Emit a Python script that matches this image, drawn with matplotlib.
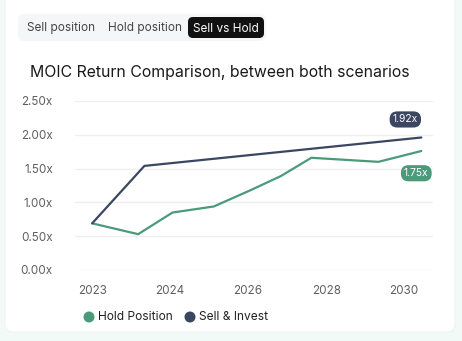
import matplotlib.pyplot as plt
from matplotlib.patches import FancyBboxPatch, Circle

plt.rcParams['font.family'] = ['Inter', 'DejaVu Sans']

# data
tick_pos = [0, 1, 2, 3, 4]
tick_labels = ['2023', '2024', '2026', '2028', '2030']
hold_x = [0.0, 0.59, 1.03, 1.56, 2.03, 2.42, 2.81, 3.67, 4.22]
hold_y = [0.69, 0.53, 0.85, 0.94, 1.18, 1.39, 1.66, 1.60, 1.76]
sell_x = [0.0, 0.67, 4.22]
sell_y = [0.69, 1.54, 1.96]
y_ticks = [0, 0.5, 1.0, 1.5, 2.0, 2.5]
hold_label = '1.75x'
sell_label = '1.92x'

navy = '#3b4661'
green = '#4b9a79'
W, H = 462, 341

fig = plt.figure(figsize=(W / 100, H / 100), dpi=100)
fig.patch.set_facecolor('#f2faf7')

def px(x, y):
    return x / W, 1 - y / H

# white card
bg = fig.add_axes([0, 0, 1, 1])
bg.set_xlim(0, W)
bg.set_ylim(H, 0)
bg.axis('off')
bg.add_patch(FancyBboxPatch((5, -10), 450, 342, boxstyle='round,pad=0,rounding_size=8',
                            fc='white', ec='#eef3f1', lw=0.8))

# toggle
bg.add_patch(FancyBboxPatch((18, 14), 248, 27, boxstyle='round,pad=0,rounding_size=6',
                            fc='#f5f6f8', ec='none'))
bg.add_patch(FancyBboxPatch((188, 17), 76, 21, boxstyle='round,pad=0,rounding_size=5',
                            fc='#111111', ec='none'))
bg.text(61, 28.5, 'Sell position', ha='center', va='center', fontsize=8.5, color='#444444')
bg.text(145, 28.5, 'Hold position', ha='center', va='center', fontsize=8.5, color='#444444')
bg.text(226, 28.5, 'Sell vs Hold', ha='center', va='center', fontsize=8.5, color='white')

bg.text(30, 73, 'MOIC Return Comparison, between both scenarios', ha='left', va='center',
        fontsize=11.4, color='#1a1a1a')

# legend
bg.add_patch(Circle((89, 317), 5.5, fc=green, ec='none'))
bg.text(98, 317, 'Hold Position', ha='left', va='center', fontsize=8.6, color='#222222')
bg.add_patch(Circle((190, 317), 5.5, fc=navy, ec='none'))
bg.text(199, 317, 'Sell & Invest', ha='left', va='center', fontsize=8.6, color='#222222')

# chart
l, b = px(75, 270)
r, t = px(433, 101)
ax = fig.add_axes([l, b, r - l, t - b])
ax.patch.set_alpha(0)
ax.plot(hold_x, hold_y, color=green, lw=1.6, solid_capstyle='round', zorder=3)
ax.plot(sell_x, sell_y, color=navy, lw=1.6, solid_capstyle='round', zorder=3)
ax.set_xlim(-0.22, 4.37)
ax.set_ylim(0, 2.5)
ax.set_yticks(y_ticks)
ax.set_yticklabels(['%.2fx' % v for v in y_ticks])
ax.set_xticks(tick_pos)
ax.set_xticklabels(tick_labels)
ax.grid(axis='y', color='#efefef', lw=1)
ax.set_axisbelow(True)
for s in ax.spines.values():
    s.set_visible(False)
ax.tick_params(length=0, labelsize=8.4, labelcolor='#5f5f5f')
ax.tick_params(axis='y', pad=16)
ax.tick_params(axis='x', pad=11)

ax.annotate(sell_label, (sell_x[-1], sell_y[-1]), xytext=(-11.5, 13), textcoords='offset points',
            ha='center', va='center', fontsize=7.4, color='white',
            bbox=dict(boxstyle='round,pad=0.3,rounding_size=0.75', fc=navy, ec='none'))
ax.annotate(hold_label, (hold_x[-1], hold_y[-1]), xytext=(-3.6, -16), textcoords='offset points',
            ha='center', va='center', fontsize=7.4, color='white',
            bbox=dict(boxstyle='round,pad=0.3,rounding_size=0.75', fc=green, ec='none'))

fig.savefig('out.png', dpi=100)
